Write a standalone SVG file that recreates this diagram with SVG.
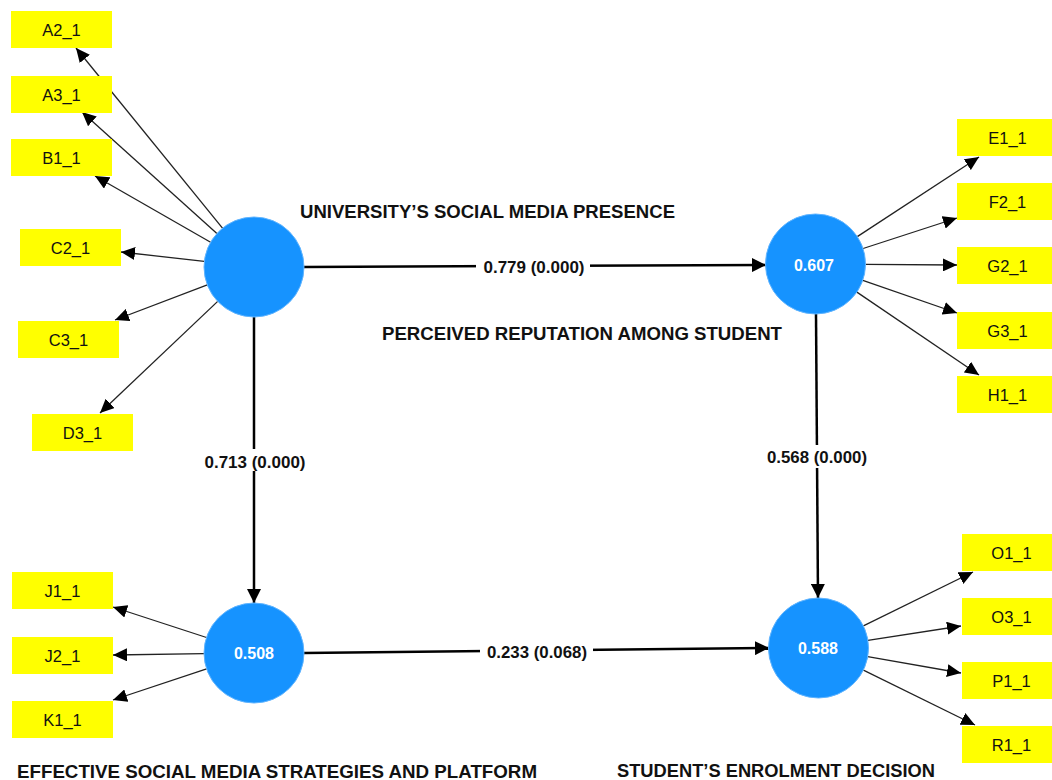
<svg xmlns="http://www.w3.org/2000/svg" width="1052" height="780" viewBox="0 0 1052 780">
<style>
.box{fill:#ffff00}
.bt{font-family:"Liberation Sans",Arial,sans-serif;font-size:16.5px;fill:#111;text-anchor:middle}
.lv{fill:#1693ff;stroke:#5fb4ff;stroke-width:1}
.vt{font-family:"Liberation Sans",Arial,sans-serif;font-size:16px;font-weight:bold;fill:#fff;text-anchor:middle}
.thin{stroke:#222;stroke-width:1.3;fill:none;marker-end:url(#ah)}
.thick{stroke:#000;stroke-width:2.5;fill:none;marker-end:url(#ahb)}
.pl{font-family:"Liberation Sans",Arial,sans-serif;font-size:16px;font-weight:bold;fill:#111;text-anchor:middle}
.ttl{font-family:"Liberation Sans",Arial,sans-serif;font-size:18px;font-weight:bold;fill:#111}
</style>
<defs>
<marker id="ah" markerUnits="userSpaceOnUse" markerWidth="14" markerHeight="13" refX="14" refY="6.5" orient="auto"><path d="M0,0 L14,6.5 L0,13 z" fill="#000"/></marker>
<marker id="ahb" markerUnits="userSpaceOnUse" markerWidth="14" markerHeight="14" refX="14" refY="7" orient="auto"><path d="M0,0 L14,7 L0,14 z" fill="#000"/></marker>
</defs>
<rect width="1052" height="780" fill="#fff"/>
<g id="connectors">
<line class="thin" x1="222.5" y1="228.2" x2="76" y2="48"/>
<line class="thin" x1="216.9" y1="233.5" x2="82" y2="112"/>
<line class="thin" x1="210.6" y1="242.2" x2="95" y2="176"/>
<line class="thin" x1="204.3" y1="261.4" x2="121" y2="252"/>
<line class="thin" x1="207.3" y1="284.8" x2="115" y2="320"/>
<line class="thin" x1="217.7" y1="301.4" x2="100" y2="413"/>
<line class="thin" x1="857.3" y1="236.6" x2="979" y2="157"/>
<line class="thin" x1="863.1" y1="248.5" x2="957" y2="218"/>
<line class="thin" x1="865.5" y1="264.4" x2="957" y2="265"/>
<line class="thin" x1="862.8" y1="280.4" x2="957" y2="313"/>
<line class="thin" x1="856.9" y1="292.1" x2="979" y2="375"/>
<line class="thin" x1="206.5" y1="637.5" x2="113" y2="607"/>
<line class="thin" x1="204" y1="653.7" x2="113" y2="655"/>
<line class="thin" x1="206.6" y1="668.8" x2="113" y2="700"/>
<line class="thin" x1="863.4" y1="625.9" x2="973" y2="572"/>
<line class="thin" x1="867.9" y1="640.4" x2="961" y2="626"/>
<line class="thin" x1="867.7" y1="656.6" x2="961" y2="673"/>
<line class="thin" x1="863.4" y1="670.1" x2="975" y2="725"/>
<line class="thick" x1="304" y1="267" x2="766" y2="265"/>
<line class="thick" x1="254" y1="317" x2="254" y2="603"/>
<line class="thick" x1="816" y1="314" x2="818" y2="598"/>
<line class="thick" x1="304" y1="653" x2="769" y2="648"/>
<rect x="476" y="256" width="114" height="22" fill="#fff"/>
<text class="pl" x="534" y="273" textLength="101" lengthAdjust="spacingAndGlyphs">0.779 (0.000)</text>
<rect x="200" y="449" width="110" height="22" fill="#fff"/>
<text class="pl" x="255" y="468" textLength="101" lengthAdjust="spacingAndGlyphs">0.713 (0.000)</text>
<rect x="762" y="445" width="110" height="23" fill="#fff"/>
<text class="pl" x="817" y="463" textLength="100" lengthAdjust="spacingAndGlyphs">0.568 (0.000)</text>
<rect x="480" y="640" width="113" height="23" fill="#fff"/>
<text class="pl" x="537" y="658" textLength="100" lengthAdjust="spacingAndGlyphs">0.233 (0.068)</text>
</g>
<g id="usmp">
<circle class="lv" cx="254" cy="267" r="50"/>
<text class="ttl" x="300" y="218" textLength="375" lengthAdjust="spacingAndGlyphs">UNIVERSITY’S SOCIAL MEDIA PRESENCE</text>
</g>
<g id="pr">
<circle class="lv" cx="815.5" cy="264" r="50"/>
<text class="vt" x="814" y="271">0.607</text>
<text class="ttl" x="382" y="340" textLength="400" lengthAdjust="spacingAndGlyphs">PERCEIVED REPUTATION AMONG STUDENT</text>
</g>
<g id="esms">
<circle class="lv" cx="254" cy="653" r="50"/>
<text class="vt" x="254" y="659">0.508</text>
<text class="ttl" x="17" y="778" textLength="520" lengthAdjust="spacingAndGlyphs">EFFECTIVE SOCIAL MEDIA STRATEGIES AND PLATFORM</text>
</g>
<g id="sed">
<circle class="lv" cx="818.5" cy="648" r="50"/>
<text class="vt" x="818" y="654">0.588</text>
<text class="ttl" x="617" y="777" textLength="318" lengthAdjust="spacingAndGlyphs">STUDENT’S ENROLMENT DECISION</text>
</g>
<g id="A2_1"><rect class="box" x="11" y="11" width="101" height="37"/><text class="bt" x="61.5" y="35.5">A2_1</text></g>
<g id="A3_1"><rect class="box" x="11" y="76" width="101" height="37"/><text class="bt" x="61.5" y="100.5">A3_1</text></g>
<g id="B1_1"><rect class="box" x="11" y="139" width="101" height="37"/><text class="bt" x="61.5" y="163.5">B1_1</text></g>
<g id="C2_1"><rect class="box" x="20" y="229" width="101" height="37"/><text class="bt" x="70.5" y="253.5">C2_1</text></g>
<g id="C3_1"><rect class="box" x="18" y="321" width="101" height="37"/><text class="bt" x="68.5" y="345.5">C3_1</text></g>
<g id="D3_1"><rect class="box" x="32" y="414" width="101" height="37"/><text class="bt" x="82.5" y="438.5">D3_1</text></g>
<g id="E1_1"><rect class="box" x="957" y="119" width="101" height="37"/><text class="bt" x="1007.5" y="143.5">E1_1</text></g>
<g id="F2_1"><rect class="box" x="957" y="183" width="101" height="37"/><text class="bt" x="1007.5" y="207.5">F2_1</text></g>
<g id="G2_1"><rect class="box" x="957" y="247" width="101" height="37"/><text class="bt" x="1007.5" y="271.5">G2_1</text></g>
<g id="G3_1"><rect class="box" x="957" y="312" width="101" height="37"/><text class="bt" x="1007.5" y="336.5">G3_1</text></g>
<g id="H1_1"><rect class="box" x="957" y="376" width="101" height="37"/><text class="bt" x="1007.5" y="400.5">H1_1</text></g>
<g id="J1_1"><rect class="box" x="12" y="572" width="101" height="37"/><text class="bt" x="62.5" y="596.5">J1_1</text></g>
<g id="J2_1"><rect class="box" x="12" y="637" width="101" height="37"/><text class="bt" x="62.5" y="661.5">J2_1</text></g>
<g id="K1_1"><rect class="box" x="12" y="701" width="101" height="37"/><text class="bt" x="62.5" y="725.5">K1_1</text></g>
<g id="O1_1"><rect class="box" x="962" y="534" width="101" height="37"/><text class="bt" x="1011.5" y="558.5">O1_1</text></g>
<g id="O3_1"><rect class="box" x="962" y="598" width="101" height="37"/><text class="bt" x="1011.5" y="622.5">O3_1</text></g>
<g id="P1_1"><rect class="box" x="962" y="662" width="101" height="37"/><text class="bt" x="1011.5" y="686.5">P1_1</text></g>
<g id="R1_1"><rect class="box" x="962" y="726" width="101" height="37"/><text class="bt" x="1011.5" y="750.5">R1_1</text></g>
</svg>
